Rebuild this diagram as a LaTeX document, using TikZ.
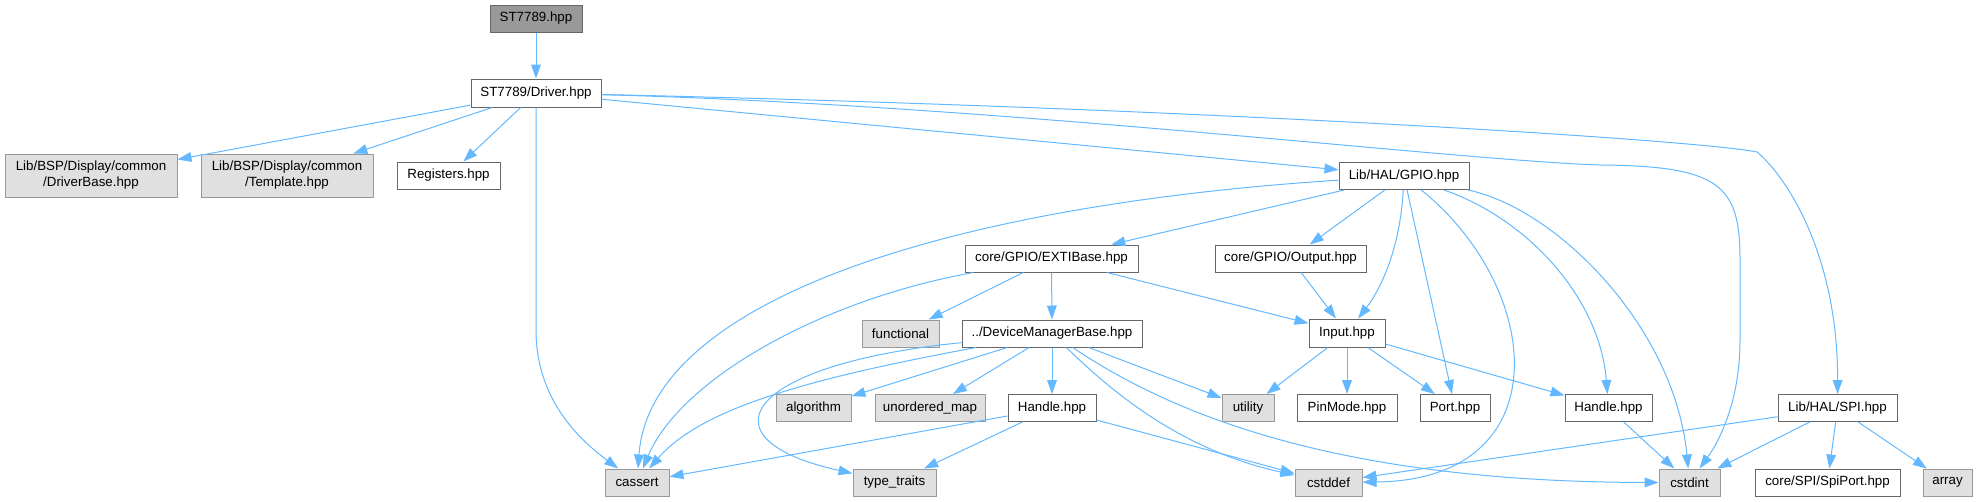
\documentclass[tikz,border=0pt]{standalone}
\usepackage{fontspec}
\setmainfont{Liberation Sans}
\usetikzlibrary{arrows.meta}
\definecolor{edgec}{HTML}{63B8FF}
\definecolor{grayfill}{HTML}{E0E0E0}
\definecolor{grayline}{HTML}{999999}
\definecolor{darkline}{HTML}{666666}
\definecolor{topfill}{HTML}{999999}
\begin{document}
\begin{tikzpicture}[x=0.75pt,y=-0.75pt,
  box/.style={draw=darkline, fill=white, line width=0.75pt, inner sep=0pt,
    minimum height=20.25pt, font=\fontsize{10}{12}\selectfont, align=center},
  gbox/.style={box, draw=grayline, fill=grayfill},
  topbox/.style={box, draw=darkline, fill=topfill},
  dep/.style={draw=edgec, line width=0.75pt, -{Triangle[length=10.5pt,width=7.3pt]}}]
\useasboundingbox (0,0) rectangle (1979,501);

% nodes
\node[topbox, minimum width=69pt] (st) at (536,18.5) {ST7789.hpp};
\node[box, minimum width=97.5pt, minimum height=21pt] (drv) at (536,93) {ST7789/Driver.hpp};
\node[gbox, minimum width=129pt, minimum height=32.25pt] (dbase) at (91,175.5) {Lib/BSP/Display/common\\/DriverBase.hpp};
\node[gbox, minimum width=129pt, minimum height=32.25pt] (tmpl) at (287,175.5) {Lib/BSP/Display/common\\/Template.hpp};
\node[box, minimum width=77.25pt] (reg) at (448.5,175.5) {Registers.hpp};
\node[box, minimum width=97.5pt] (gpio) at (1404,176) {Lib/HAL/GPIO.hpp};
\node[box, minimum width=129.75pt] (exti) at (1051.5,258.5) {core/GPIO/EXTIBase.hpp};
\node[box, minimum width=113.25pt] (output) at (1290.5,258.5) {core/GPIO/Output.hpp};
\node[gbox, minimum width=57.75pt] (functional) at (900.5,333.5) {functional};
\node[box, minimum width=135pt] (dmb) at (1052,333.5) {../DeviceManagerBase.hpp};
\node[box, minimum width=57pt, minimum height=21pt] (input) at (1347,333) {Input.hpp};
\node[gbox, minimum width=56.25pt] (algorithm) at (813.5,408) {algorithm};
\node[gbox, minimum width=82.5pt] (umap) at (930,408) {unordered\_map};
\node[box, minimum width=66pt] (handle1) at (1052,408) {Handle.hpp};
\node[gbox, minimum width=39pt] (utility) at (1248,408) {utility};
\node[box, minimum width=75pt] (pinmode) at (1347,408) {PinMode.hpp};
\node[box, minimum width=52.5pt] (port) at (1455,408) {Port.hpp};
\node[box, minimum width=65.25pt] (handle2) at (1608.5,408) {Handle.hpp};
\node[box, minimum width=89.25pt] (spi) at (1837.5,408) {Lib/HAL/SPI.hpp};
\node[gbox, minimum width=48pt] (cassert) at (637,482.5) {cassert};
\node[gbox, minimum width=62.25pt] (tt) at (894.5,482.5) {type\_traits};
\node[gbox, minimum width=50.25pt] (cstddef) at (1328.5,482.5) {cstddef};
\node[gbox, minimum width=45.75pt] (cstdint) at (1689.5,482.5) {cstdint};
\node[box, minimum width=108.75pt] (spiport) at (1827.5,482.5) {core/SPI/SpiPort.hpp};
\node[gbox, minimum width=36.75pt] (array) at (1947.5,482.5) {array};

% edges from ST7789 / Driver
\draw[dep] (st) -- (drv);
\draw[dep] (drv) -- (dbase);
\draw[dep] (drv) -- (tmpl);
\draw[dep] (drv) -- (reg);
\draw[dep] (drv) -- (536,330) .. controls (536,400) and (580,440) .. (cassert);
\draw[dep] (drv) -- (gpio);
\draw[dep] (drv) .. controls (1000,105) and (1450,160) .. (1600,165)
  .. controls (1720,166) and (1740,185) .. (1740,260)
  -- (1740,340) .. controls (1740,400) and (1720,440) .. (cstdint);
\draw[dep] (drv) .. controls (1200,108) and (1700,140) .. (1757,152)
  .. controls (1790,180) and (1838,260) .. (spi);

% edges from GPIO
\draw[dep] (gpio) .. controls (950,205) and (650,300) .. (cassert);
\draw[dep] (gpio) -- (exti);
\draw[dep] (gpio) -- (output);
\draw[dep] (gpio) .. controls (1400,250) and (1380,290) .. (input);
\draw[dep] (gpio) -- (port);
\draw[dep] (gpio) .. controls (1545,290) and (1560,480) .. (cstddef);
\draw[dep] (gpio) .. controls (1530,220) and (1600,300) .. (handle2);
\draw[dep] (gpio) .. controls (1560,210) and (1675,330) .. (cstdint);

% edges from EXTIBase / Output
\draw[dep] (exti) .. controls (820,300) and (680,380) .. (cassert);
\draw[dep] (exti) -- (functional);
\draw[dep] (exti) -- (dmb);
\draw[dep] (exti) -- (input);
\draw[dep] (output) -- (input);

% edges from DeviceManagerBase
\draw[dep] (dmb) .. controls (800,380) and (700,410) .. (cassert);
\draw[dep] (dmb) .. controls (740,365) and (700,440) .. (tt);
\draw[dep] (dmb) -- (algorithm);
\draw[dep] (dmb) -- (umap);
\draw[dep] (dmb) -- (handle1);
\draw[dep] (dmb) -- (utility);
\draw[dep] (dmb) .. controls (1110,390) and (1180,450) .. (cstddef);
\draw[dep] (dmb) .. controls (1180,420) and (1350,482) .. (cstdint);

% edges from Input
\draw[dep] (input) -- (utility);
\draw[dep] (input) -- (pinmode);
\draw[dep] (input) -- (port);
\draw[dep] (input) -- (handle2);

% edges from Handle (middle)
\draw[dep] (handle1) -- (cassert);
\draw[dep] (handle1) -- (tt);
\draw[dep] (handle1) -- (cstddef);

% edge from Handle (right)
\draw[dep] (handle2) -- (cstdint);

% edges from SPI
\draw[dep] (spi) -- (cstddef);
\draw[dep] (spi) -- (cstdint);
\draw[dep] (spi) -- (spiport);
\draw[dep] (spi) -- (array);
\end{tikzpicture}
\end{document}
